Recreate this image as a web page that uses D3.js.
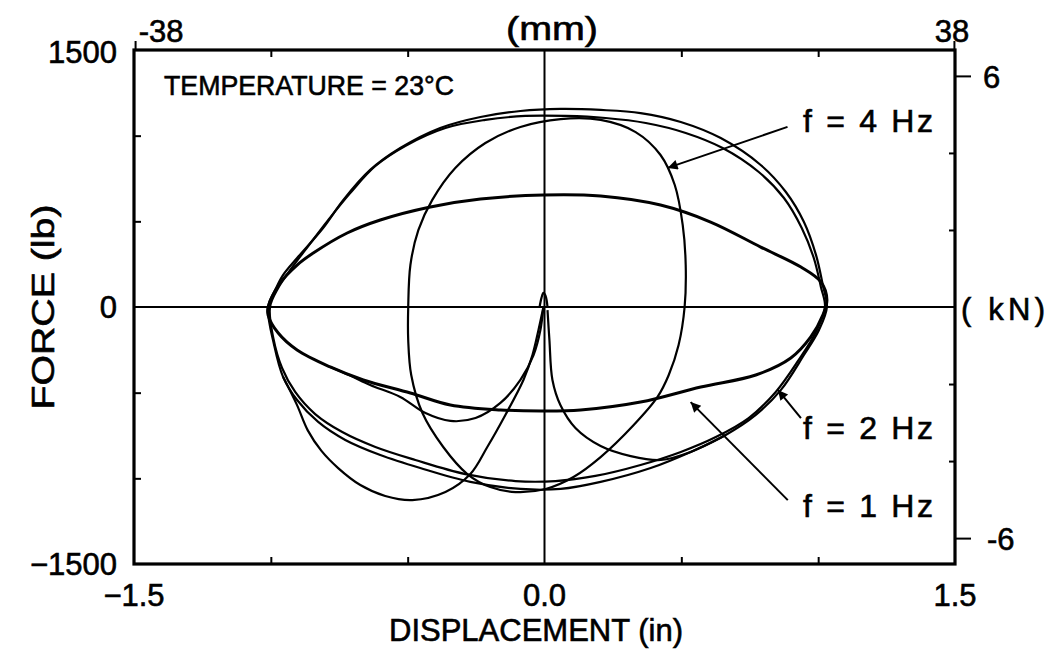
<!DOCTYPE html>
<html>
<head>
<meta charset="utf-8">
<script src="https://cdn.jsdelivr.net/npm/d3@7"></script>
<style>
  body { margin: 0; background: #fff; }
  text { font-family: "Liberation Sans", Arial, sans-serif; fill: #000; stroke: #000; stroke-width: 0.6px; }
</style>
</head>
<body>
<svg id="chart" width="1058" height="650"></svg>
<script>
// displacement in inches, force in lb
const loop2HzA = [
  [-1.010, 0], [-0.984, 99], [-0.955, 187], [-0.904, 286], [-0.809, 461], [-0.735, 625],
  [-0.637, 800], [-0.527, 928], [-0.381, 1045], [-0.234, 1109], [-0.088, 1144], [0.059, 1156],
  [0.205, 1150], [0.351, 1132], [0.498, 1080], [0.644, 986], [0.790, 829], [0.882, 671],
  [0.948, 496], [0.992, 304], [1.017, 128], [1.032, 0],
  [1.003, -134], [0.948, -280], [0.864, -484], [0.772, -630], [0.662, -747], [0.534, -846],
  [0.388, -940], [0.205, -1021], [0.059, -1062], [-0.088, -1062], [-0.271, -1021], [-0.454, -940],
  [-0.600, -864], [-0.728, -776], [-0.827, -671], [-0.904, -543], [-0.955, -409], [-0.988, -222]
];
const loop2HzB = [
  [-1.003, 0], [-0.973, 111], [-0.929, 216], [-0.874, 333], [-0.790, 508], [-0.710, 665],
  [-0.618, 823], [-0.509, 940], [-0.362, 1045], [-0.216, 1092], [-0.070, 1115], [0.077, 1115],
  [0.223, 1103], [0.370, 1074], [0.516, 1016], [0.651, 928], [0.783, 788], [0.875, 636],
  [0.940, 461], [0.984, 286], [1.010, 117], [1.025, 0],
  [0.992, -146], [0.929, -309], [0.845, -496], [0.746, -648], [0.626, -759], [0.498, -846],
  [0.351, -922], [0.186, -986], [0.040, -1016], [-0.106, -1016], [-0.289, -975], [-0.472, -893],
  [-0.618, -817], [-0.739, -730], [-0.838, -625], [-0.911, -496], [-0.959, -356], [-0.991, -181]
];
const loop1Hz = [
  [-1.010, 0], [-0.966, 140], [-0.904, 245], [-0.845, 315], [-0.721, 432], [-0.600, 508],
  [-0.417, 584], [-0.234, 630], [-0.004, 654], [0.205, 648], [0.424, 595], [0.607, 496],
  [0.790, 350], [0.937, 233], [1.010, 146], [1.032, 41],
  [1.017, -47], [0.973, -175], [0.900, -298], [0.772, -397], [0.571, -467], [0.351, -555],
  [0.132, -601], [-0.004, -607], [-0.161, -601], [-0.344, -572], [-0.490, -502], [-0.662, -426],
  [-0.783, -350], [-0.904, -251], [-0.973, -152], [-1.010, -47]
];
const loop4Hz = [
  [-0.498, 0], [-0.490, 245], [-0.461, 449], [-0.410, 625], [-0.326, 811], [-0.216, 957],
  [-0.088, 1051], [0.059, 1097], [0.205, 1092], [0.333, 1021], [0.424, 887], [0.476, 712],
  [0.505, 479], [0.516, 245], [0.512, 0], [0.490, -222], [0.454, -397], [0.413, -525],
  [0.326, -689], [0.205, -876], [0.106, -992], [0.004, -1062], [-0.106, -1080], [-0.198, -1051],
  [-0.282, -975], [-0.370, -817], [-0.446, -619], [-0.487, -397], [-0.498, -193]
];
const start1Hz = [
  [-0.004, 0], [-0.015, -134], [-0.040, -280], [-0.088, -426], [-0.161, -560], [-0.252, -648],
  [-0.344, -665], [-0.435, -619], [-0.527, -525], [-0.637, -455], [-0.710, -400], [-0.783, -350]
];
const start2Hz = [
  [-0.004, 0], [-0.022, -134], [-0.044, -280], [-0.077, -426], [-0.143, -630], [-0.209, -817],
  [-0.271, -975], [-0.362, -1080], [-0.483, -1127], [-0.582, -1103], [-0.673, -1039],
  [-0.754, -940], [-0.815, -840], [-0.865, -720], [-0.905, -570], [-0.955, -409]
];
const start4Hz = [
  [0.011, -18], [0.018, -193], [0.029, -426], [0.058, -572], [0.113, -706], [0.205, -811],
  [0.315, -870], [0.425, -893], [0.534, -846], [0.662, -747]
];
const originSpike = [[-0.018, 0], [-0.011, 53], [-0.004, 82], [0.004, 64], [0.011, 0]];

const dispTicks = [-1.0, -0.5, 0.5, 1.0];
const dispLabels = [-1.5, 0.0, 1.5];
const mmLabels = [-38, 38];
const forceTicks = [-1000, -500, 500, 1000];
const forceLabels = [-1500, 0, 1500];
const kNTicks = [-4, -2, 2, 4];
const kNLabels = [-6, 6];
const freqLabels = ["f = 4 Hz", "f = 2 Hz", "f = 1 Hz"];

const LB_PER_KN = 224.809;
const IN_PER_MM = 1 / 25.4;

const svg = d3.select("#chart");
const x = d3.scaleLinear().domain([-1.5, 1.5]).range([134, 955]);
const y = d3.scaleLinear().domain([-1500, 1500]).range([564, 50]);

const line = d3.line().x(d => x(d[0])).y(d => y(d[1]));

// zero lines
svg.append("line").attr("x1", x(-1.5)).attr("x2", x(1.5)).attr("y1", y(0)).attr("y2", y(0))
  .attr("stroke", "#000").attr("stroke-width", 2);
svg.append("line").attr("x1", x(0)).attr("x2", x(0)).attr("y1", y(1500)).attr("y2", y(-1500))
  .attr("stroke", "#000").attr("stroke-width", 2);

// loops
const g = svg.append("g").attr("fill", "none").attr("stroke", "#000").attr("stroke-linejoin", "round");
[loop2HzA, loop2HzB, loop1Hz, loop4Hz].forEach((d, i) => {
  g.append("path").attr("d", line.curve(d3.curveCatmullRomClosed.alpha(0.5))(d))
    .attr("stroke-width", i === 2 ? 3 : 2.2);
});
[start1Hz, start2Hz, start4Hz, originSpike].forEach(d => {
  g.append("path").attr("d", line.curve(d3.curveCatmullRom.alpha(0.5))(d)).attr("stroke-width", 2.2);
});

// frame
svg.append("rect").attr("x", x(-1.5)).attr("y", y(1500))
  .attr("width", x(1.5) - x(-1.5)).attr("height", y(-1500) - y(1500))
  .attr("fill", "none").attr("stroke", "#000").attr("stroke-width", 3.2);

// axes
const axBottom = svg.append("g").attr("transform", `translate(0,${y(-1500)})`)
  .call(d3.axisBottom(x).tickValues(dispTicks).tickSizeInner(-7).tickSizeOuter(0).tickFormat(""));
const axTop = svg.append("g").attr("transform", `translate(0,${y(1500)})`)
  .call(d3.axisTop(x).tickValues(dispTicks).tickSizeInner(-7).tickSizeOuter(0).tickFormat(""));
const axLeft = svg.append("g").attr("transform", `translate(${x(-1.5)},0)`)
  .call(d3.axisLeft(y).tickValues(forceTicks).tickSizeInner(-7).tickSizeOuter(0).tickFormat(""));
const yKN = d3.scaleLinear().domain(y.domain().map(v => v / LB_PER_KN)).range(y.range());
const axRight = svg.append("g").attr("transform", `translate(${x(1.5)},0)`)
  .call(d3.axisRight(yKN).tickValues(kNTicks).tickSizeInner(-6).tickSizeOuter(0).tickFormat(""));
const axRightMain = svg.append("g").attr("transform", `translate(${x(1.5)},0)`)
  .call(d3.axisRight(yKN).tickValues(kNLabels).tickSizeInner(16).tickSizeOuter(0).tickFormat(""));
const xMM = d3.scaleLinear().domain(x.domain().map(v => v / IN_PER_MM)).range(x.range());
const axTopMain = svg.append("g").attr("transform", `translate(0,${y(1500)})`)
  .call(d3.axisTop(xMM).tickValues(mmLabels).tickSizeInner(9).tickSizeOuter(0).tickFormat(""));
[axBottom, axTop, axLeft, axRight, axRightMain, axTopMain].forEach(a => {
  a.select(".domain").remove();
  a.selectAll(".tick line").attr("stroke", "#000").attr("stroke-width", 2);
});

// tick labels
const fs = 31;
svg.selectAll(".dl").data(dispLabels).join("text")
  .attr("x", d => x(d)).attr("y", y(-1500) + 42).attr("text-anchor", "middle")
  .attr("font-size", fs).text(d => d3.format(".1f")(d).replace("-", "\u2212"));
svg.selectAll(".ml").data(mmLabels).join("text")
  .attr("x", d => xMM(d) + (d < 0 ? 26 : -2)).attr("y", 42).attr("text-anchor", "middle")
  .attr("font-size", fs).text(d => String(d));
svg.selectAll(".fl").data(forceLabels).join("text")
  .attr("x", 117).attr("y", d => y(d) + 11 + (d === 1500 ? 2 : 0)).attr("text-anchor", "end")
  .attr("font-size", fs).text(d => String(d).replace("-", "\u2212"));
svg.selectAll(".kl").data(kNLabels).join("text")
  .attr("x", d => x(1.5) + (d < 0 ? 32 : 28)).attr("y", d => yKN(d) + 12)
  .attr("font-size", fs).text(d => (d < 0 ? "-" : "") + Math.abs(d));

// axis titles
svg.append("text").attr("x", 552).attr("y", 40).attr("text-anchor", "middle")
  .attr("font-size", 33).attr("textLength", 92).attr("lengthAdjust", "spacingAndGlyphs").text("(mm)");
svg.append("text").attr("x", 536).attr("y", 641).attr("text-anchor", "middle")
  .attr("font-size", fs).text("DISPLACEMENT (in)");
svg.append("text").attr("transform", `translate(54,${y(0)}) rotate(-90)`).attr("text-anchor", "middle")
  .attr("font-size", fs).attr("textLength", 205).attr("lengthAdjust", "spacingAndGlyphs").text("FORCE (lb)");
svg.append("text").attr("x", x(1.5) + 6).attr("y", y(0) + 13)
  .attr("font-size", fs).attr("textLength", 84).attr("lengthAdjust", "spacing").text("( kN)");
svg.append("text").attr("x", 164).attr("y", 95)
  .attr("font-size", 28).attr("textLength", 290).attr("lengthAdjust", "spacingAndGlyphs")
  .text("TEMPERATURE = 23\u00B0C");

// annotations: label baseline/left in px, arrow in data coords
const notes = [
  { lx: 803, ly: 132, from: [0.888, 1051], to: [0.450, 812] },
  { lx: 803, ly: 439, from: [0.937, -648], to: [0.853, -484] },
  { lx: 803, ly: 517, from: [0.889, -1127], to: [0.534, -555] }
];
svg.append("defs").append("marker").attr("id", "ah")
  .attr("viewBox", "0 0 10 10").attr("refX", 10).attr("refY", 5)
  .attr("markerWidth", 18).attr("markerHeight", 10).attr("markerUnits", "userSpaceOnUse")
  .attr("orient", "auto")
  .append("path").attr("d", "M0,0 L10,5 L0,10 Z").attr("fill", "#000");
notes.forEach((n, i) => {
  svg.append("line")
    .attr("x1", x(n.from[0])).attr("y1", y(n.from[1]))
    .attr("x2", x(n.to[0])).attr("y2", y(n.to[1]))
    .attr("stroke", "#000").attr("stroke-width", 2).attr("marker-end", "url(#ah)");
  svg.append("text").attr("x", n.lx).attr("y", n.ly).attr("font-size", 32)
    .attr("textLength", 130).attr("lengthAdjust", "spacing")
    .text(freqLabels[i]);
});
</script>
</body>
</html>
